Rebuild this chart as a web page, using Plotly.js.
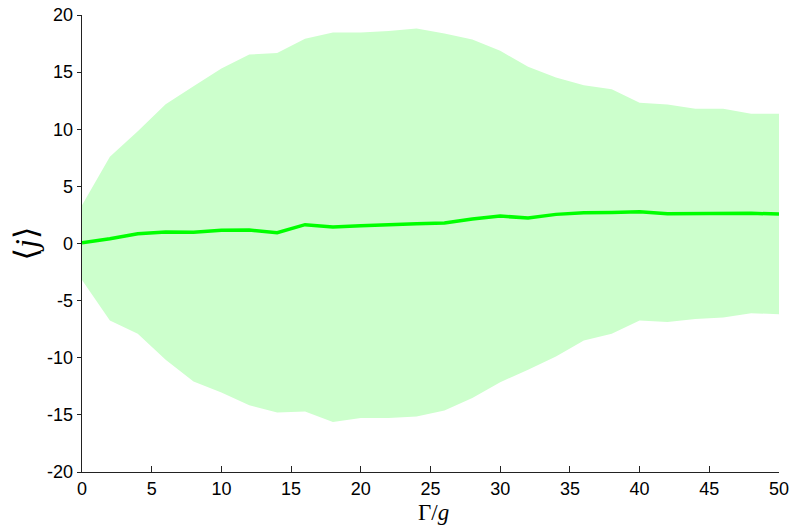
<!DOCTYPE html>
<html>
<head>
<meta charset="utf-8">
<script src="https://cdn.plot.ly/plotly-3.0.1.min.js"></script>
<style>
  html, body { margin: 0; padding: 0; background: #fff; }
  #chart { width: 791px; height: 526px; }
</style>
</head>
<body>
<div id="chart"></div>
<script>
// Coupling ratio Γ/g, sampled every 2 units
const gammaOverG = [0, 2, 4, 6, 8, 10, 12, 14, 16, 18, 20, 22, 24, 26, 28, 30, 32, 34, 36, 38, 40, 42, 44, 46, 48, 50];

// Mean current <j>
const meanJ = [0.07, 0.42, 0.86, 1.0, 0.98, 1.15, 1.18, 0.95, 1.65, 1.44, 1.56, 1.68, 1.73, 1.79, 2.14, 2.4, 2.23, 2.55, 2.69, 2.72, 2.78, 2.61, 2.61, 2.66, 2.64, 2.58];

// Upper and lower edges of the spread band
const upperJ = [3.34, 7.59, 9.83, 12.19, 13.77, 15.31, 16.54, 16.68, 17.93, 18.46, 18.46, 18.6, 18.81, 18.37, 17.85, 16.86, 15.46, 14.53, 13.86, 13.51, 12.31, 12.17, 11.79, 11.79, 11.35, 11.35];
const lowerJ = [-3.19, -6.75, -7.91, -10.18, -12.08, -13.04, -14.15, -14.79, -14.7, -15.63, -15.28, -15.28, -15.14, -14.61, -13.53, -12.14, -11.06, -9.89, -8.49, -7.91, -6.75, -6.86, -6.6, -6.48, -6.1, -6.19];

// Tick positions and labels
const xTickVals = [0, 5, 10, 15, 20, 25, 30, 35, 40, 45, 50];
const xTickText = ['0', '5', '10', '15', '20', '25', '30', '35', '40', '45', '50'];
const yTickVals = [-20, -15, -10, -5, 0, 5, 10, 15, 20];
const yTickText = ['-20', '-15', '-10', '-5', '0', '5', '10', '15', '20'];

const traces = [
  {
    x: gammaOverG, y: lowerJ, type: 'scatter', mode: 'lines',
    line: { width: 0, color: 'rgba(0,0,0,0)' },
    hoverinfo: 'skip', showlegend: false
  },
  {
    x: gammaOverG, y: upperJ, type: 'scatter', mode: 'lines',
    fill: 'tonexty', fillcolor: '#ccffcc',
    line: { width: 0, color: 'rgba(0,0,0,0)' },
    hoverinfo: 'skip', showlegend: false
  },
  {
    x: gammaOverG, y: meanJ, type: 'scatter', mode: 'lines',
    line: { color: '#00ff00', width: 3.5 },
    showlegend: false
  }
];

const tickFont = { family: 'Liberation Sans, Arial, sans-serif', size: 18, color: '#000' };
const mathFont = { family: 'Liberation Serif, DejaVu Serif, serif', color: '#000' };

const layout = {
  width: 791, height: 526,
  margin: { l: 82, r: 12, t: 15, b: 54 },
  paper_bgcolor: '#fff', plot_bgcolor: '#fff',
  showlegend: false,
  xaxis: {
    range: [0, 50], tickvals: xTickVals, ticktext: xTickText,
    ticks: 'inside', ticklen: 6, tickwidth: 1, tickcolor: '#222',
    showline: true, linecolor: '#222', linewidth: 1.3,
    showgrid: false, zeroline: false, mirror: false,
    tickfont: tickFont
  },
  yaxis: {
    range: [-20, 20], tickvals: yTickVals, ticktext: yTickText,
    ticks: 'outside', ticklen: 4, tickwidth: 1, tickcolor: '#222',
    showline: true, linecolor: '#222', linewidth: 1.3,
    showgrid: false, zeroline: false, mirror: false,
    tickfont: tickFont,
    title: { text: '⟨<i>j</i>⟩', font: Object.assign({ size: 32 }, mathFont), standoff: 0 }
  },
  // x-axis label set just under the tick labels, at the bottom edge
  annotations: [{
    text: 'Γ/<i>g</i>', xref: 'paper', yref: 'paper', x: 0.505, y: 0,
    xanchor: 'center', yanchor: 'bottom', yshift: -54, showarrow: false,
    borderpad: 0, font: Object.assign({ size: 23 }, mathFont)
  }]
};

Plotly.newPlot('chart', traces, layout, { displayModeBar: false, staticPlot: true });
</script>
</body>
</html>
